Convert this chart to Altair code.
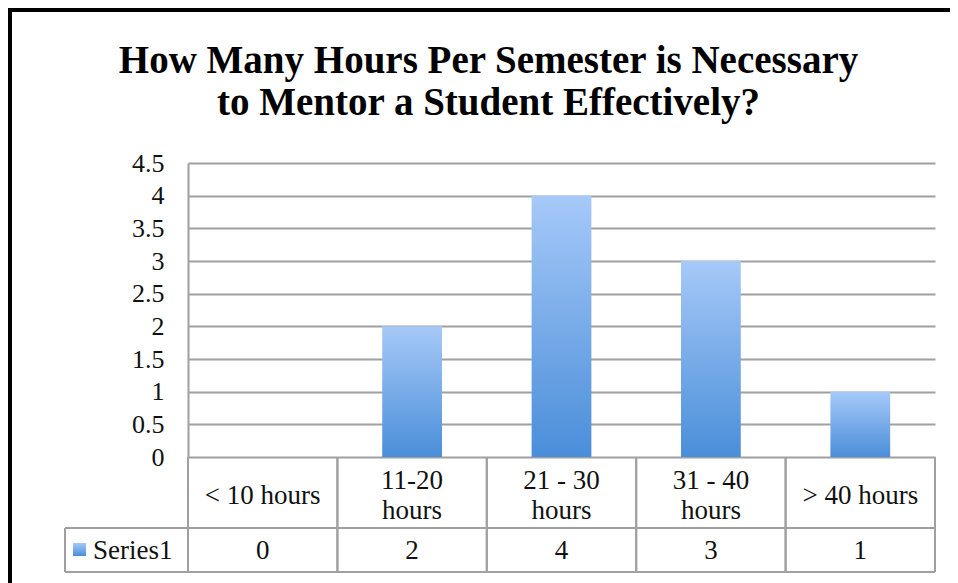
import altair as alt
import pandas as pd

# ---- data ----
categories = ["< 10 hours", "11-20\nhours", "21 - 30\nhours", "31 - 40\nhours", "> 40 hours"]
values = [0, 2, 4, 3, 1]
series_name = "Series1"
y_ticks = [0, 0.5, 1, 1.5, 2, 2.5, 3, 3.5, 4, 4.5]
title_lines = ["How Many Hours Per Semester is Necessary", "to Mentor a Student Effectively?"]

# ---- layout (pixels, relative to plot area) ----
PLOT_W, PLOT_H = 747, 294
ROW1_BOTTOM = 365
TABLE_BOTTOM = 409
LEGEND_LEFT = -123
LINE_H = 30
GRAY = "#a0a0a0"
FONT = "Liberation Serif"

df = pd.DataFrame({"cat": categories, "value": values})
# vertical shift so that multi-line labels are centred in their cell
df["off"] = [-(c.count("\n")) * LINE_H / 2 for c in categories]
one = pd.DataFrame({"k": [0]})

xscale = alt.Scale(domain=categories, paddingInner=0, paddingOuter=0)
x_center = alt.X("cat:N", sort=categories, scale=xscale, axis=None)

grad = alt.Gradient(
    gradient="linear",
    stops=[alt.GradientStop(color="#a6c9f8", offset=0),
           alt.GradientStop(color="#4a8ed9", offset=1)],
    x1=0, x2=0, y1=0, y2=1,
)

base = alt.Chart(df)

bars = base.mark_bar(color=grad, width=alt.RelativeBandSize(0.4)).encode(
    x=x_center,
    y=alt.Y("value:Q",
            scale=alt.Scale(domain=[0, 4.5], nice=False),
            axis=alt.Axis(values=y_ticks, format="~g", title=None, ticks=False,
                          labelPadding=24, labelFont=FONT, labelFontSize=26,
                          labelColor="#111111", domainColor=GRAY, domainWidth=2,
                          grid=True, gridColor=GRAY, gridWidth=2)),
)

# table: vertical cell borders
vlines_start = base.mark_rule(color=GRAY, strokeWidth=2).encode(
    x=alt.X("cat:N", sort=categories, scale=xscale, axis=None, bandPosition=0),
    y=alt.value(PLOT_H), y2=alt.value(TABLE_BOTTOM),
)
vlines_end = base.mark_rule(color=GRAY, strokeWidth=2).encode(
    x=alt.X("cat:N", sort=categories, scale=xscale, axis=None, bandPosition=1),
    y=alt.value(PLOT_H), y2=alt.value(TABLE_BOTTOM),
)
# horizontal table borders
hline_mid = alt.Chart(one).mark_rule(color=GRAY, strokeWidth=2).encode(
    x=alt.value(LEGEND_LEFT), x2=alt.value(PLOT_W), y=alt.value(ROW1_BOTTOM))
hline_bot = alt.Chart(one).mark_rule(color=GRAY, strokeWidth=2).encode(
    x=alt.value(LEGEND_LEFT), x2=alt.value(PLOT_W), y=alt.value(TABLE_BOTTOM))
vline_left = alt.Chart(one).mark_rule(color=GRAY, strokeWidth=2).encode(
    x=alt.value(LEGEND_LEFT), y=alt.value(ROW1_BOTTOM), y2=alt.value(TABLE_BOTTOM))
vline_axis = alt.Chart(one).mark_rule(color=GRAY, strokeWidth=2).encode(
    x=alt.value(0), y=alt.value(PLOT_H), y2=alt.value(TABLE_BOTTOM))

# category labels
cat_labels = base.mark_text(font=FONT, fontSize=27, color="#111111", lineBreak="\n",
                            lineHeight=LINE_H, baseline="middle", align="center").encode(
    x=x_center, y=alt.value(333),
    yOffset=alt.YOffset("off:Q", scale=None),
    text="cat:N")

# values row
val_labels = base.mark_text(font=FONT, fontSize=27, color="#111111",
                            baseline="middle", align="center").encode(
    x=x_center, y=alt.value((ROW1_BOTTOM + TABLE_BOTTOM) / 2 + 1), text="value:Q")

# legend key in table
legend_key = alt.Chart(one).mark_rect(color=grad).encode(
    x=alt.value(-115), x2=alt.value(-102),
    y=alt.value(380), y2=alt.value(393))
legend_text = alt.Chart(one).mark_text(font=FONT, fontSize=27, color="#111111",
                                       baseline="middle", align="left",
                                       text=series_name).encode(
    x=alt.value(-95), y=alt.value((ROW1_BOTTOM + TABLE_BOTTOM) / 2 + 1))

# title
title = alt.Chart(one).mark_text(font=FONT, fontSize=39, fontWeight="bold",
                                 color="black", lineHeight=42, align="center",
                                 baseline="alphabetic", text=title_lines).encode(
    x=alt.value(300.5), y=alt.value(-90))

# outer frame (top and left black borders)
frame_top = alt.Chart(one).mark_rule(color="black", strokeWidth=5).encode(
    x=alt.value(-181), x2=alt.value(780), y=alt.value(-153.5))
frame_left = alt.Chart(one).mark_rule(color="black", strokeWidth=5).encode(
    x=alt.value(-178.5), y=alt.value(-156), y2=alt.value(430))

chart = alt.layer(
    bars, vlines_start, vlines_end, hline_mid, hline_bot, vline_left, vline_axis,
    cat_labels, val_labels, legend_key, legend_text, title, frame_top, frame_left,
).properties(
    width=PLOT_W, height=PLOT_H,
    autosize=alt.AutoSizeParams(type="none"),
    padding={"left": 180, "top": 155, "right": 15, "bottom": 126},
    background="white",
).configure_view(stroke=None)

chart.save("out.html", embed_options={"renderer": "svg", "actions": False})
